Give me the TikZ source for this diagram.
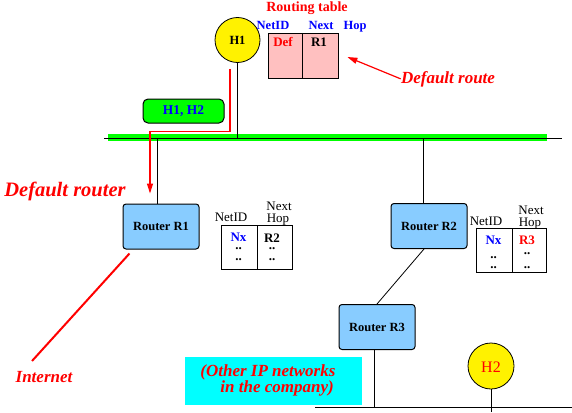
\documentclass[tikz,border=0pt]{standalone}
\usepackage{fontspec}
\setmainfont{Liberation Serif}
\usetikzlibrary{arrows.meta}
\definecolor{routerblue}{RGB}{136,204,255}
\definecolor{tablepink}{RGB}{255,192,192}
\definecolor{busgreen}{RGB}{0,255,0}
\definecolor{notecyan}{RGB}{0,255,255}
\newcommand{\fs}[1]{\fontsize{#1}{#1}\selectfont}

\begin{document}
\begin{tikzpicture}[x=1pt, y=-1pt, line width=.8pt,
  router/.style={draw, line width=1pt, fill=routerblue, rounded corners=3pt, minimum width=76pt, minimum height=45pt, font=\fs{12.5}\bfseries},
  host/.style={draw, fill=yellow, circle, minimum size=45pt, inner sep=0pt},
  redtip/.style={red, line width=1.2pt, -{Triangle[length=10pt,width=6pt]}},
  lab/.style={anchor=base, inner sep=0pt},
  bigred/.style={lab, text=red, font=\fs{17}\bfseries\itshape},
  hdr/.style={lab, font=\fs{13}},
  cell/.style={inner sep=0pt, anchor=north, align=center, font=\fs{13}\bfseries}]

\useasboundingbox (0,0) rectangle (572,412);

\fill [busgreen] (108,134) rectangle (547,141);
\draw (104,138) coordinate (busw) -- (562,138) coordinate (buse);
\draw (315,407) coordinate (lanw) -- (572,407) coordinate (lane);

\node [host, font=\fs{12.5}\bfseries] (h1) at (237.5,40) {H1};
\node [host, minimum size=46pt] (h2) at (491,366) {};
\node [lab, text=red, font=\fs{16}] at (491,372) {H2};
\draw (h1.south) -- (h1.south |- busw);
\draw (h2.south) -- ++(0,23);

\node [draw, line width=1pt, fill=busgreen, rounded corners=5pt, minimum width=81pt, minimum height=24pt, text=blue, font=\fs{13.5}\bfseries] (pkt) at (183.5,111) {H1, H2};

\node [draw, fill=tablepink, minimum width=70pt, minimum height=45pt, inner sep=0pt] (rtab) at (303,55.5) {};
\draw (302,33) -- (302,78);
\node [lab, text=red, font=\fs{14}\bfseries] at (307,12) {Routing table};
\node [lab, text=blue, font=\fs{12.5}\bfseries] at (273,29.5) {NetID};
\node [lab, text=blue, font=\fs{12.5}\bfseries] at (321,29.5) {Next};
\node [lab, text=blue, font=\fs{12.5}\bfseries] at (355,29.5) {Hop};
\node [lab, text=red, font=\fs{13}\bfseries] at (283,47) {Def};
\node [lab, font=\fs{13}\bfseries] at (319,47) {R1};

\node [bigred] (defrt) at (448,83) {Default route};
\draw [redtip] (defrt.west) -- ([shift={(9pt,-1.5pt)}]rtab.east);

\node [router] (r1) at (161,226.5) {Router R1};
\node [router] (r2) at (429,226) {Router R2};
\node [router] (r3) at (377,327) {Router R3};
\draw ([xshift=-4pt]r1.north) -- ([xshift=-4pt]r1.north |- busw);
\draw ([xshift=-6pt]r2.north) -- ([xshift=-6pt]r2.north |- busw);
\draw ([xshift=-5pt]r2.south) -- (r3.north);
\draw ([xshift=-3pt]r3.south) -- ([xshift=-3pt]r3.south |- lanw);

\draw [redtip] ([shift={(-7.5pt,-6pt)}]h1.south) |- (150,131.7) -- ([shift={(-11pt,10pt)}]r1.north);
\node [bigred, font=\fs{20.5}\bfseries\itshape] at (65,196.5) {Default router};

\node [bigred] (inet) at (44,382.5) {Internet};
\coordinate (inetend) at (32,361);
\draw [red, line width=2pt] ([shift={(7pt,-4pt)}]r1.south west) -- (inetend);

\draw (221,225) rectangle (292,269);
\draw (257,225) -- (257,269);
\node [hdr] at (231,221.5) {NetID};
\node [hdr] at (279,210.5) {Next};
\node [hdr] at (278,222) {Hop};
\node [cell] at (238.5,233) {\textcolor{blue}{Nx}\\[-5.5pt]..\\[-2pt]..};
\node [cell] at (272,233) {R2\\[-5.5pt]..\\[-2pt]..};

\draw (476,228) rectangle (546,272);
\draw (512,228) -- (512,272);
\node [hdr] at (486,225) {NetID};
\node [hdr] at (531,214) {Next};
\node [hdr] at (530,226.5) {Hop};
\node [cell] at (493.5,235.5) {\textcolor{blue}{Nx}\\[1pt]..\\[-3pt]..};
\node [cell] at (527,235.5) {\textcolor{red}{R3}\\[-3pt]..\\[1pt]..};

\node [fill=notecyan, minimum width=177pt, minimum height=48pt] (other) at (273.5,381) {};
\node [bigred, anchor=base west] at (200,376.5) {(Other IP networks};
\node [bigred, anchor=base west] at (220,392) {in the company)};

\end{tikzpicture}
\end{document}
